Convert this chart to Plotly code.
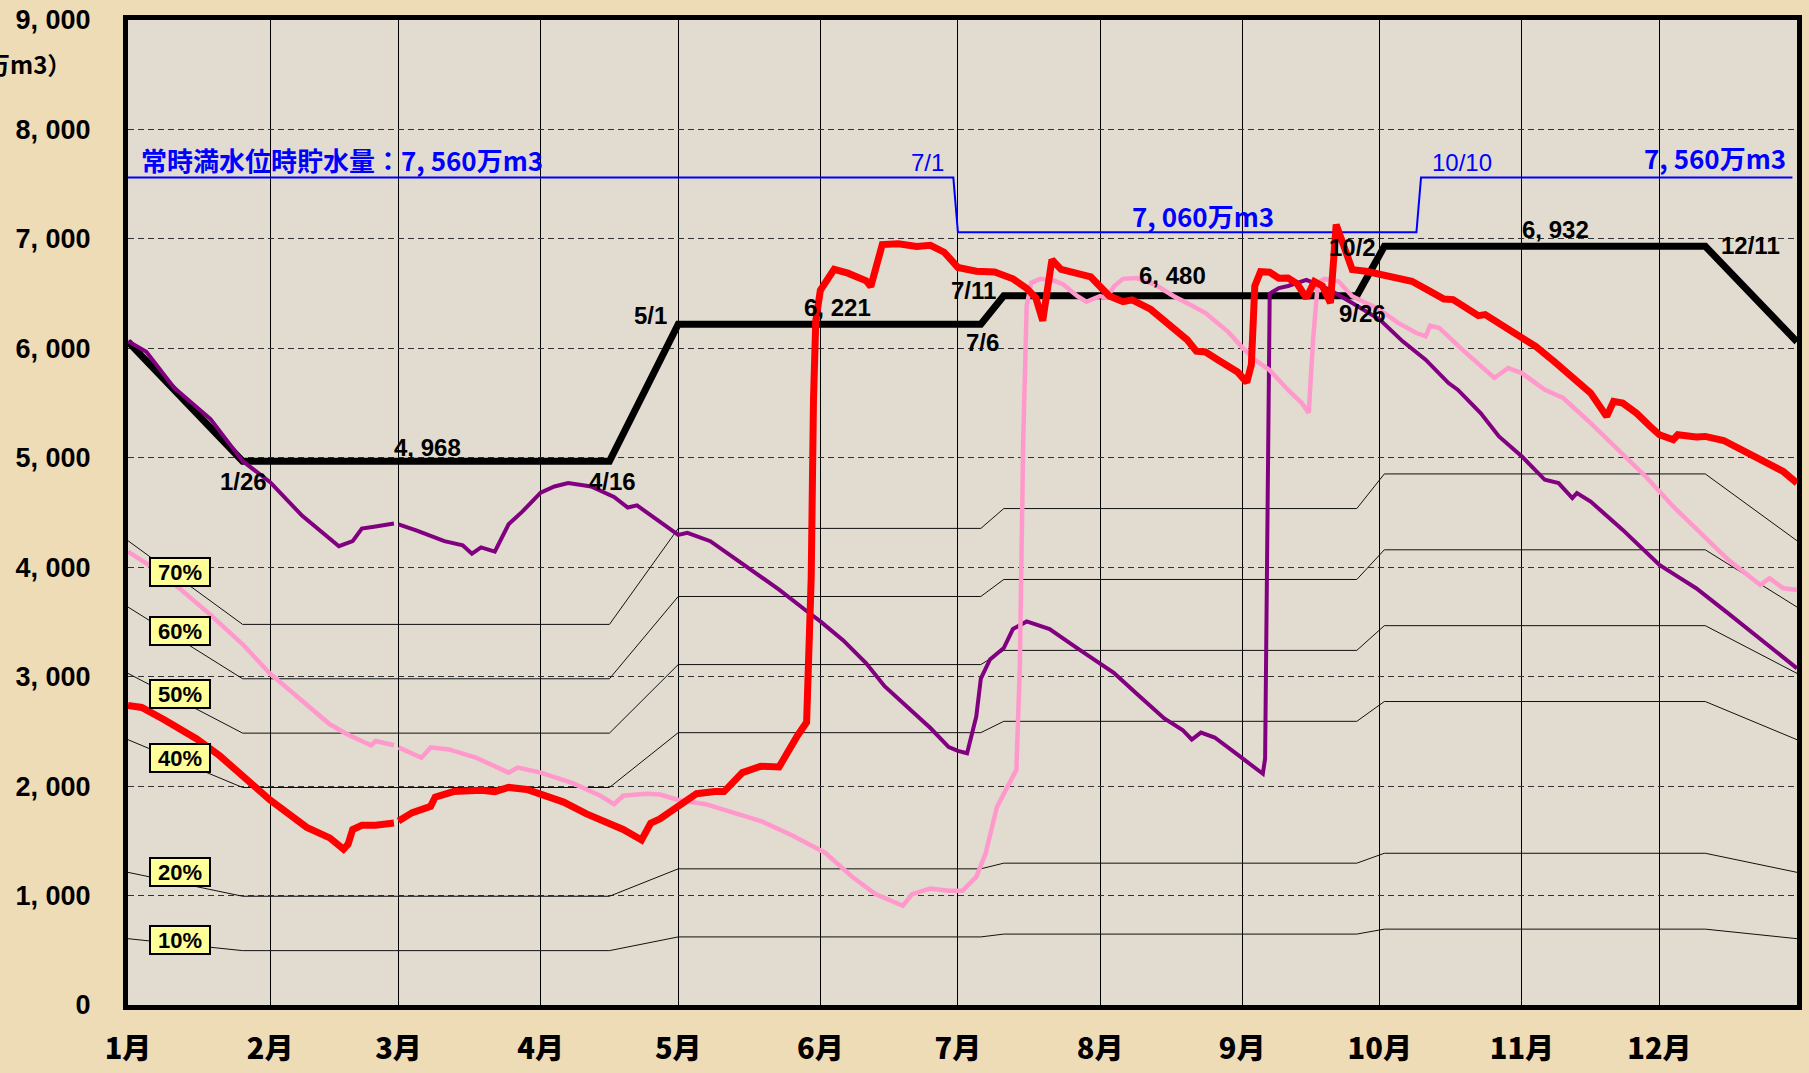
import plotly.graph_objects as go

YEAR = "2023-"

# ---------------- axis data ----------------
month_starts = ["01-01", "02-01", "03-01", "04-01", "05-01", "06-01",
                "07-01", "08-01", "09-01", "10-01", "11-01", "12-01"]
month_labels = ["1月", "2月", "3月", "4月", "5月", "6月",
                "7月", "8月", "9月", "10月", "11月", "12月"]
y_ticks = [0, 1000, 2000, 3000, 4000, 5000, 6000, 7000, 8000, 9000]
y_tick_labels = ["0", "1, 000", "2, 000", "3, 000", "4, 000", "5, 000",
                 "6, 000", "7, 000", "8, 000", "9, 000"]

# ---------------- rule curve (black) ----------------
rule_x = ["01-01", "01-26", "04-16", "05-01", "07-06", "07-11",
          "09-26", "10-02", "12-11", "12-31"]
rule_y = [6060, 4968, 4968, 6221, 6221, 6480, 6480, 6932, 6932, 6060]

# ---------------- normal full water level storage (blue) ----------------
full_x = ["01-01", "06-30", "07-01", "10-09", "10-10", "12-30"]
full_y = [7560, 7560, 7060, 7060, 7560, 7560]

# percentage lines of the rule curve
pct_levels = [10, 20, 40, 50, 60, 70]

# ---------------- current year (red) ----------------
red_x = ["01-01", "01-04", "01-09", "01-16", "01-21", "01-27", "02-01", "02-09",
         "02-14", "02-17", "02-18", "02-19", "02-21", "02-24", "02-28", "02-28 12:00",
         "03-01", "03-04", "03-08", "03-09", "03-13", "03-19", "03-22", "03-25",
         "03-29", "04-01", "04-06", "04-11", "04-15", "04-19", "04-23", "04-25",
         "04-27", "04-29", "05-01", "05-05", "05-09", "05-11", "05-15", "05-19",
         "05-23", "05-25", "05-27", "05-29", "05-30 00:00", "05-30 12:00", "05-31",
         "06-01", "06-04", "06-07", "06-11", "06-12", "06-14 12:00", "06-18", "06-22",
         "06-25", "06-28", "07-01", "07-05", "07-09", "07-13", "07-16", "07-18",
         "07-19 12:00", "07-21 12:00", "07-23 12:00", "07-27", "07-30", "08-01",
         "08-03", "08-06", "08-08", "08-12", "08-17", "08-20", "08-22", "08-24",
         "08-27", "08-31", "09-02", "09-03", "09-03 18:00", "09-05", "09-07", "09-09",
         "09-11", "09-13", "09-15", "09-16 18:00", "09-18 12:00", "09-20 06:00",
         "09-21 12:00", "09-23", "09-25", "09-28", "10-01", "10-04", "10-08", "10-12",
         "10-15", "10-17", "10-20", "10-22 12:00", "10-24", "10-27", "11-01", "11-04",
         "11-08", "11-12", "11-16", "11-19 12:00", "11-21", "11-23", "11-26", "11-29",
         "12-01", "12-04", "12-05", "12-09", "12-11", "12-15", "12-19", "12-24",
         "12-28", "12-31"]
red_y = [2738, 2719, 2604, 2431, 2277, 2065, 1873, 1623,
         1527, 1423, 1469, 1604, 1642, 1642, 1662, None,
         1681, 1758, 1815, 1900, 1950, 1962, 1950, 1988,
         1969, 1931, 1854, 1746, 1681, 1604, 1508, 1662,
         1700, 1758, 1815, 1931, 1950, 1950, 2123, 2181,
         2175, 2322, 2461, 2583, 3900, 5522, 6252,
         6530, 6722, 6687, 6617, 6565, 6948, 6955, 6930,
         6941, 6878, 6739, 6704, 6697, 6635, 6548, 6461,
         6252, 6809, 6722, 6687, 6652, 6565,
         6478, 6426, 6443, 6357, 6183, 6078, 5974, 5967,
         5887, 5783, 5689, 5850, 6570, 6700, 6695, 6640,
         6643, 6590, 6460, 6610, 6570, 6415,
         7131, 6963, 6719, 6704, 6674, 6643, 6613, 6521,
         6451, 6445, 6369, 6299, 6308, 6232, 6094, 6018,
         5881, 5744, 5591, 5378, 5515, 5500, 5408, 5286,
         5210, 5165, 5210, 5189, 5195, 5158, 5073, 4966,
         4875, 4768]

# ---------------- past year (purple) ----------------
purple_x = ["01-01", "01-05", "01-11", "01-19", "01-26", "02-01", "02-08", "02-12",
            "02-16", "02-19", "02-21", "02-24", "02-28", "02-28 12:00", "03-01", "03-05",
            "03-11", "03-15", "03-17", "03-19", "03-22", "03-25", "03-28", "04-01",
            "04-04", "04-07", "04-12", "04-17", "04-20", "04-22", "05-01", "05-03",
            "05-08", "05-17", "05-23", "05-29", "06-01", "06-06", "06-11", "06-15",
            "06-20", "06-25", "06-29", "07-01", "07-03", "07-05", "07-06", "07-08",
            "07-11", "07-13", "07-16", "07-21", "07-27", "08-01", "08-04", "08-09",
            "08-15", "08-19", "08-21", "08-23", "08-26", "08-31", "09-05 12:00", "09-06",
            "09-06 12:00", "09-07", "09-09", "09-11", "09-15", "09-20", "09-25", "10-01",
            "10-06", "10-11", "10-16", "10-18", "10-23", "10-27", "11-01", "11-06",
            "11-09", "11-12", "11-13", "11-16", "11-23", "11-29", "12-01", "12-05",
            "12-09", "12-16", "12-24", "12-31"]
purple_y = [6065, 5969, 5642, 5354, 4969, 4777, 4469, 4335,
            4192, 4238, 4354, 4373, 4400, None, 4392, 4335,
            4238, 4200, 4123, 4181, 4142, 4392, 4508, 4681,
            4738, 4769, 4738, 4642, 4546, 4565, 4296, 4315,
            4238, 3969, 3796, 3600, 3505, 3331, 3122, 2913,
            2722, 2531, 2357, 2322, 2300, 2635, 2983, 3157,
            3261, 3435, 3505, 3435, 3261, 3122, 3035, 2844,
            2618, 2513, 2426, 2489, 2444, 2287, 2113, 2252,
            4500, 6500, 6550, 6570, 6625, 6537, 6415, 6262,
            6064, 5896, 5683, 5622, 5408, 5195, 5012, 4799,
            4768, 4631, 4677, 4600, 4341, 4097, 4021, 3914,
            3808, 3579, 3305, 3076]

# ---------------- past year (pink) ----------------
pink_x = ["01-01", "01-06", "01-12", "01-19", "01-26", "02-01", "02-07", "02-14",
          "02-18", "02-23", "02-24", "02-28", "02-28 12:00", "03-01", "03-06", "03-08",
          "03-12", "03-18", "03-25", "03-27", "04-01", "04-08", "04-14", "04-17",
          "04-19", "04-24", "04-27", "05-01", "05-07", "05-13", "05-19", "05-26",
          "06-02", "06-08", "06-13", "06-19", "06-21", "06-25", "06-29", "07-02",
          "07-05", "07-07", "07-09 12:00", "07-12", "07-13 18:00", "07-14 12:00",
          "07-15 06:00", "07-16", "07-17", "07-19", "07-22", "07-24", "07-27", "07-29",
          "08-01", "08-02 12:00", "08-04", "08-06", "08-09", "08-13", "08-17", "08-21",
          "08-24", "08-29", "09-01", "09-04", "09-07", "09-11", "09-14", "09-15 12:00",
          "09-16 12:00", "09-17 12:00", "09-19", "09-22", "09-25", "10-01", "10-05",
          "10-09", "10-11", "10-12", "10-14", "10-19", "10-26", "10-29", "11-01",
          "11-06", "11-10", "11-16", "11-22", "11-28", "12-04", "12-10", "12-16",
          "12-23", "12-25", "12-28", "12-31"]
pink_y = [4142, 4008, 3815, 3565, 3296, 3027, 2815, 2565,
          2469, 2373, 2412, 2373, None, 2354, 2258, 2354,
          2335, 2258, 2123, 2169, 2123, 2027, 1912, 1835,
          1912, 1931, 1923, 1873, 1835, 1758, 1681, 1546,
          1392, 1170, 1013, 907, 1013, 1065, 1044, 1044,
          1170, 1380, 1807, 2009, 2148, 3087,
          5174, 6391, 6600, 6635, 6617, 6583, 6478, 6426,
          6478, 6461, 6565, 6635, 6642, 6583, 6478, 6391,
          6322, 6148, 6009, 5887, 5800, 5620, 5500, 5410,
          6100, 6600, 6634, 6613, 6476, 6354, 6232,
          6140, 6110, 6207, 6186, 5988, 5729, 5820, 5774,
          5622, 5546, 5317, 5073, 4829, 4555, 4311, 4067,
          3838, 3899, 3808, 3793]


def dates(lst):
    return [YEAR + s for s in lst]


NUM_FONT = "Liberation Sans, Arial, Noto Sans CJK JP, sans-serif"
JP_FONT = "Noto Sans CJK JP, Liberation Sans, sans-serif"

fig = go.Figure()

# percentage lines
for p in pct_levels:
    fig.add_trace(go.Scatter(
        x=dates(rule_x), y=[v * p / 100 for v in rule_y], mode="lines",
        line=dict(color="#111111", width=1), hoverinfo="skip", showlegend=False))

fig.add_trace(go.Scatter(x=dates(full_x), y=full_y, mode="lines",
                         line=dict(color="#0000ff", width=2), showlegend=False))
fig.add_trace(go.Scatter(x=dates(rule_x), y=rule_y, mode="lines",
                         line=dict(color="#000000", width=7), showlegend=False))
fig.add_trace(go.Scatter(x=dates(purple_x), y=purple_y, mode="lines",
                         line=dict(color="#800080", width=4), showlegend=False))
fig.add_trace(go.Scatter(x=dates(pink_x), y=pink_y, mode="lines",
                         line=dict(color="#ff99cc", width=4.5), showlegend=False))
fig.add_trace(go.Scatter(x=dates(red_x), y=red_y, mode="lines",
                         line=dict(color="#ff0000", width=7), showlegend=False))

# ---------------- layout geometry ----------------
W, H = 1809, 1073
L, R, T, B = 128, 1797, 20, 1005


def px(x):
    return (x - L) / (R - L)


def py(y):
    return (B - y) / (B - T)


annotations = []


def label(text, x, y, color="#000000", size=24, family=NUM_FONT, xanchor="center",
          weight="bold"):
    annotations.append(dict(
        text=text, x=px(x), y=py(y), xref="paper", yref="paper",
        xanchor=xanchor, yanchor="middle", showarrow=False,
        font=dict(color=color, size=size, family=family, weight=weight)))


# black rule labels
label("4, 968", 427, 448)
label("1/26", 243, 481)
label("4/16", 612, 481)
label("5/1", 650, 315)
label("6, 221", 837, 307)
label("7/11", 973, 290)
label("7/6", 983, 343)
label("6, 480", 1172, 275)
label("10/2", 1352, 247)
label("9/26", 1362, 313)
label("6, 932", 1555, 230)
label("12/11", 1750, 245)

# blue labels
label("常時満水位時貯水量：7, 560万m3", 139, 159, color="#0000ff", size=26,
      family=JP_FONT, xanchor="left")
label("7/1", 927, 163, color="#0000ff", size=24, weight="normal")
label("7, 060万m3", 1203, 215, color="#0000ff", size=26, family=JP_FONT)
label("10/10", 1462, 163, color="#0000ff", size=24, weight="normal")
label("7, 560万m3", 1788, 157, color="#0000ff", size=26, family=JP_FONT,
      xanchor="right")

# unit label (partly cut at the page edge, as in the original)
label("（万m3）", 73, 63, size=24, family=JP_FONT, xanchor="right")

# percent boxes
pct_box_y = {70: 572, 60: 631, 50: 694, 40: 758, 20: 872, 10: 940}
for p in [70, 60, 50, 40, 20, 10]:
    annotations.append(dict(
        text=f"{p}%", x=px(180), y=py(pct_box_y[p]), xref="paper", yref="paper",
        xanchor="center", yanchor="middle", showarrow=False,
        bgcolor="#ffff99", bordercolor="#000000", borderwidth=2,
        width=58, height=26, borderpad=0,
        font=dict(color="#000000", size=22, weight="bold",
                  family="Liberation Sans Narrow, Liberation Sans")))

fig.update_layout(
    width=W, height=H,
    margin=dict(l=L, r=W - R, t=T, b=H - B, autoexpand=False),
    paper_bgcolor="#eedcb6",
    plot_bgcolor="#e2dbcf",
    annotations=annotations,
    showlegend=False,
    xaxis=dict(
        type="date", automargin=False,
        range=[YEAR + "01-01", YEAR + "12-31"],
        tickvals=dates(month_starts), ticktext=month_labels,
        showgrid=True, gridcolor="#000000", gridwidth=1,
        showline=True, linecolor="#000000", linewidth=5, mirror=True,
        ticks="", ticklabelstandoff=14,
        tickfont=dict(size=29, color="#000000", weight="bold",
                      family="Noto Sans CJK JP Black, Noto Sans CJK JP"),
        zeroline=False, fixedrange=True,
    ),
    yaxis=dict(
        automargin=False,
        range=[0, 9000],
        tickvals=y_ticks, ticktext=y_tick_labels,
        showgrid=True, gridcolor="#333333", gridwidth=1, griddash="6px,4px",
        showline=True, linecolor="#000000", linewidth=5, mirror=True,
        ticks="", ticklabelstandoff=27,
        tickfont=dict(size=27, color="#000000", family=NUM_FONT, weight="bold"),
        zeroline=False, fixedrange=True,
    ),
)

fig.write_html("out.html",
               config={"displayModeBar": False},
               post_script="document.body.style.margin='0';"
                           "document.body.style.background='#eedcb6';")
